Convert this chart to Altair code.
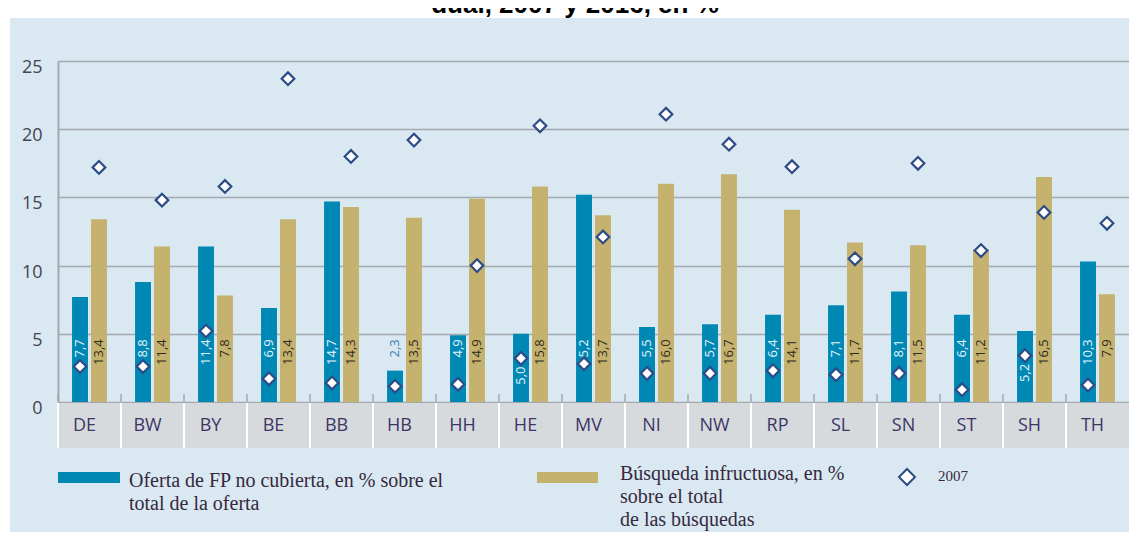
import altair as alt
import pandas as pd

# ---- data ----
cats = ["DE", "BW", "BY", "BE", "BB", "HB", "HH", "HE", "MV", "NI", "NW", "RP", "SL", "SN", "ST", "SH", "TH"]
oferta = [7.7, 8.8, 11.4, 6.9, 14.7, 2.3, 4.9, 5.0, 15.2, 5.5, 5.7, 6.4, 7.1, 8.1, 6.4, 5.2, 10.3]
busqueda = [13.4, 11.4, 7.8, 13.4, 14.3, 13.5, 14.9, 15.8, 13.7, 16.0, 16.7, 14.1, 11.7, 11.5, 11.2, 16.5, 7.9]
oferta_2007 = [2.6, 2.6, 5.2, 1.7, 1.4, 1.15, 1.3, 3.2, 2.8, 2.1, 2.1, 2.3, 2.0, 2.1, 0.9, 3.4, 1.25]
busqueda_2007 = [17.2, 14.8, 15.8, 23.7, 18.0, 19.2, 10.0, 20.25, 12.1, 21.1, 18.9, 17.25, 10.5, 17.5, 11.1, 13.9, 13.1]

series = ["oferta", "busqueda"]
series_colors = ["#0088b5", "#c5b26f"]
y_ticks = [0, 5, 10, 15, 20, 25]

title_text = "dual, 2007 y 2016, en %"
legend_oferta = ["Oferta de FP no cubierta, en % sobre el", "total de la oferta"]
legend_busqueda = ["Búsqueda infructuosa, en %", "sobre el total", "de las búsquedas"]
legend_2007 = "2007"

rows = []
for i, c in enumerate(cats):
    rows.append({"cat": c, "series": "oferta", "value": oferta[i], "v2007": oferta_2007[i]})
    rows.append({"cat": c, "series": "busqueda", "value": busqueda[i], "v2007": busqueda_2007[i]})
df = pd.DataFrame(rows)
df["label"] = df["value"].map(lambda v: f"{v:.1f}".replace(".", ","))
cat_df = pd.DataFrame({"cat": cats})
one = pd.DataFrame({"k": [0]})

GRID = "#a3a9ae"
TEXT = "#36283f"

x_scale = alt.Scale(paddingInner=0, paddingOuter=0)
x_enc = alt.X("cat:N", sort=cats, scale=x_scale, axis=None, title=None)
x_start = alt.X("cat:N", sort=cats, scale=x_scale, axis=None, title=None, bandPosition=0)
xoff = alt.XOffset("series:N", sort=series, scale=alt.Scale(paddingInner=0.16, paddingOuter=0.74))
y_scale = alt.Scale(domain=[0, 25], nice=False)

bars = alt.Chart(df).mark_bar().encode(
    x=x_enc,
    xOffset=xoff,
    y=alt.Y("value:Q", scale=y_scale, title=None,
            axis=alt.Axis(values=y_ticks, grid=True, gridColor=GRID, gridWidth=1.5,
                          domainColor=GRID, domainWidth=2, tickSize=0, labelPadding=16,
                          labelOffset=6.5, labelFont="Open Sans", labelFontSize=18,
                          labelColor="#47434f")),
    color=alt.Color("series:N", sort=series, scale=alt.Scale(domain=series, range=series_colors), legend=None),
)

# labels hang from a fixed level; blue labels move below a 2007 marker that sits in their way
bar_labels = alt.Chart(df).transform_calculate(
    label_top="(datum.series == 'oferta' && datum.v2007 > 3) ? min(4.6, datum.v2007 - 0.6) : 4.6"
).mark_text(
    angle=270, align="right", baseline="middle", font="Open Sans", fontSize=13
).encode(
    x=x_enc,
    xOffset=xoff,
    y=alt.Y("label_top:Q", scale=y_scale, title=None),
    text="label:N",
    color={
        "condition": [
            {"test": "datum.series == 'busqueda'", "value": "#2f2a1a"},
            {"test": "datum.value < 3", "value": "#3d7fb0"},
        ],
        "value": "#e6f3fa",
    },
)

diamonds = alt.Chart(df).mark_point(
    shape="diamond", fill="white", fillOpacity=1, stroke="#2d4b85", strokeWidth=2.2, size=160, opacity=1
).encode(x=x_enc, xOffset=xoff, y=alt.Y("v2007:Q", scale=y_scale, title=None))

band = alt.Chart(cat_df).mark_rect(color="#d6dadd").encode(
    x=x_enc, y=alt.value(342), y2=alt.value(387)
)
separators = alt.Chart(cat_df).mark_rule(color="white", strokeWidth=2).encode(
    x=x_start, y=alt.value(342), y2=alt.value(387)
)
ticks = alt.Chart(cat_df).mark_rule(color=GRID, strokeWidth=1.5).encode(
    x=x_start, y=alt.value(333), y2=alt.value(341)
)
cat_labels = alt.Chart(cat_df).mark_text(
    dx=-5, baseline="middle", font="Open Sans", fontSize=18, color="#3d3566"
).encode(x=x_enc, y=alt.value(365), text="cat:N")

# white strips around the blue panel and cropped title
white_top = alt.Chart(one).mark_rect(color="white").encode(
    x=alt.value(-60), x2=alt.value(1090), y=alt.value(-62), y2=alt.value(-43)
)
white_left = alt.Chart(one).mark_rect(color="white").encode(
    x=alt.value(-60), x2=alt.value(-48), y=alt.value(-62), y2=alt.value(490)
)
title = alt.Chart(one).mark_text(
    text=title_text, align="center", baseline="alphabetic", font="Liberation Sans",
    fontWeight="bold", fontSize=26, color="black"
).encode(x=alt.value(517), y=alt.value(-48))

# manual legend
sw1 = alt.Chart(one).mark_rect(color=series_colors[0]).encode(
    x=alt.value(0), x2=alt.value(62), y=alt.value(411), y2=alt.value(422)
)
lt1 = alt.Chart(one).mark_text(
    text=legend_oferta, align="left", baseline="alphabetic", font="Liberation Serif",
    fontSize=20, lineHeight=22.5, color=TEXT
).encode(x=alt.value(71), y=alt.value(426))
sw2 = alt.Chart(one).mark_rect(color=series_colors[1]).encode(
    x=alt.value(479), x2=alt.value(540), y=alt.value(411), y2=alt.value(422)
)
lt2 = alt.Chart(one).mark_text(
    text=legend_busqueda, align="left", baseline="alphabetic", font="Liberation Serif",
    fontSize=20, lineHeight=22.8, color=TEXT
).encode(x=alt.value(562), y=alt.value(419))
sw3 = alt.Chart(one).mark_point(
    shape="diamond", fill="white", fillOpacity=1, stroke="#2d4b85", strokeWidth=2, size=256, opacity=1
).encode(x=alt.value(849), y=alt.value(416))
lt3 = alt.Chart(one).mark_text(
    text=legend_2007, align="left", baseline="alphabetic", font="Liberation Serif",
    fontSize=15, color=TEXT
).encode(x=alt.value(880), y=alt.value(420))

chart = alt.layer(
    bars, band, separators, ticks, cat_labels, bar_labels, diamonds,
    white_top, white_left, title, sw1, lt1, sw2, lt2, sw3, lt3
).properties(
    width=1071, height=341,
    autosize=alt.AutoSizeParams(type="none"),
    padding={"left": 50, "top": 53, "right": 0, "bottom": 130},
    background="#d9e8f1",
).configure_view(stroke=None)

chart.save("out.html", embed_options={"renderer": "svg", "actions": False})
